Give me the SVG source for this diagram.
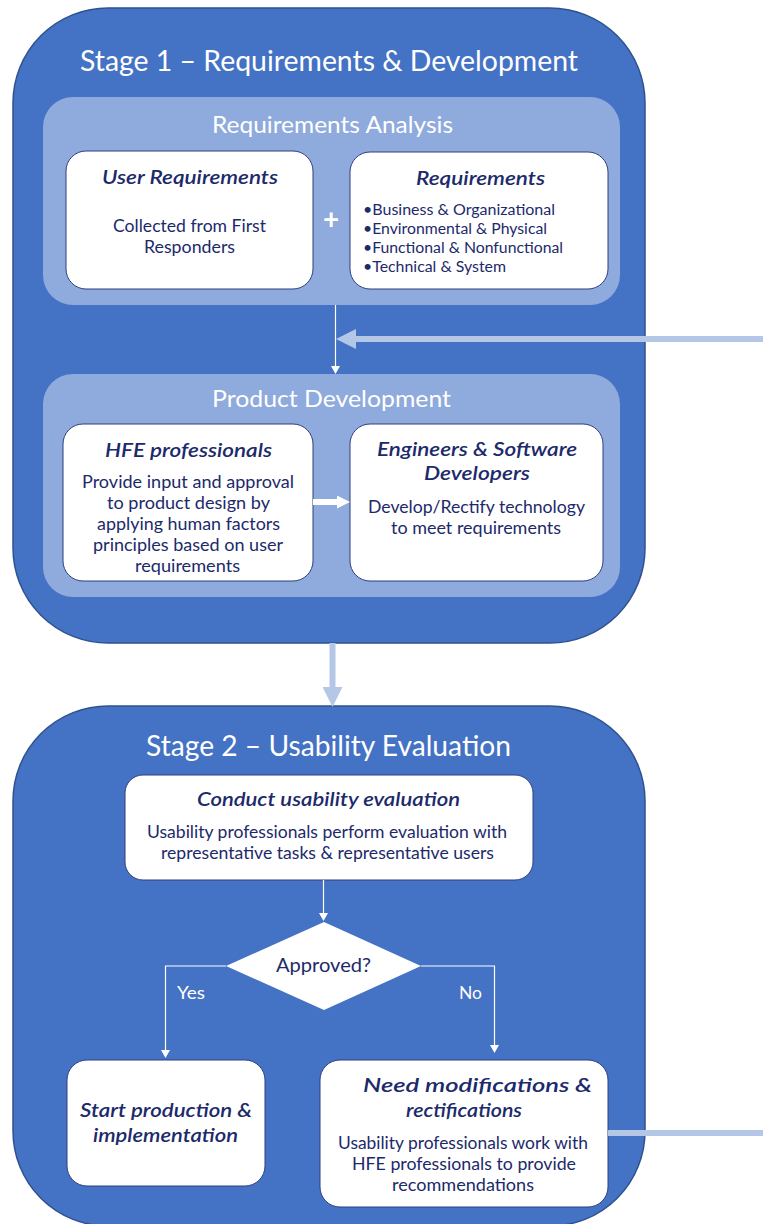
<svg xmlns="http://www.w3.org/2000/svg" width="763" height="1224" viewBox="0 0 763 1224">
<style>
text{font-family:Lato,"Noto Sans","Liberation Sans",sans-serif}
.stage{fill:#4472C4;stroke:#2F528F;stroke-width:1.5}
.panel{fill:#8FAADC}
.box{fill:#ffffff;stroke:#2F3F7F;stroke-width:1}
.st{font-size:29px;fill:#ffffff}
.pt{font-size:22.5px;fill:#ffffff}
.h{font-size:19.5px;font-style:italic;font-weight:600;fill:#1C2A6B}
.b{font-size:16.5px;fill:#1C2A6B}
.bl{font-size:15.5px;fill:#1C2A6B}
.lbl{font-size:16.5px;fill:#ffffff}
.thin{stroke:#ffffff;stroke-width:1.2;fill:none}
.thick{stroke:#B4C7E7;stroke-width:6;fill:none}
</style>
<defs>
<marker id="ah-thin" markerUnits="userSpaceOnUse" viewBox="0 0 8 9" markerWidth="8" markerHeight="9" refX="0" refY="4.5" orient="auto"><path d="M0,0 L8,4.5 L0,9 z" fill="#ffffff"/></marker>
<marker id="ah-thick" markerUnits="userSpaceOnUse" viewBox="0 0 20 20" markerWidth="20" markerHeight="20" refX="0" refY="10" orient="auto"><path d="M0,0 L20,10 L0,20 z" fill="#B4C7E7"/></marker>
<marker id="ah-white" markerUnits="userSpaceOnUse" viewBox="0 0 13 13" markerWidth="13" markerHeight="13" refX="0" refY="6.5" orient="auto"><path d="M0,0 L13,6.5 L0,13 z" fill="#ffffff"/></marker>
</defs>

<g id="stage1">
<rect class="stage" x="13" y="8" width="632" height="635" rx="95" ry="95"/>
<text class="st" x="80" y="71" textLength="498" lengthAdjust="spacingAndGlyphs">Stage 1 – Requirements &amp; Development</text>
</g>

<g id="requirements-analysis">
<rect class="panel" x="43" y="97" width="577" height="208" rx="30" ry="30"/>
<text class="pt" x="212" y="133" textLength="241" lengthAdjust="spacingAndGlyphs">Requirements Analysis</text>
<text x="331" y="229" font-size="28" font-weight="bold" fill="#ffffff" text-anchor="middle">+</text>
</g>

<g id="user-requirements">
<rect class="box" x="66" y="151" width="247" height="138" rx="20" ry="20"/>
<text class="h" x="102" y="184" textLength="176" lengthAdjust="spacingAndGlyphs">User Requirements</text>
<text class="b" x="113" y="232" textLength="153" lengthAdjust="spacingAndGlyphs">Collected from First</text>
<text class="b" x="144" y="253" textLength="91" lengthAdjust="spacingAndGlyphs">Responders</text>
</g>

<g id="requirements">
<rect class="box" x="350" y="152" width="258" height="137" rx="20" ry="20"/>
<text class="h" x="416" y="185" textLength="129" lengthAdjust="spacingAndGlyphs">Requirements</text>
<text class="bl" x="363" y="215" textLength="192" lengthAdjust="spacingAndGlyphs">•Business &amp; Organizational</text>
<text class="bl" x="363" y="234" textLength="184" lengthAdjust="spacingAndGlyphs">•Environmental &amp; Physical</text>
<text class="bl" x="363" y="253" textLength="200" lengthAdjust="spacingAndGlyphs">•Functional &amp; Nonfunctional</text>
<text class="bl" x="363" y="272" textLength="143" lengthAdjust="spacingAndGlyphs">•Technical &amp; System</text>
</g>

<g id="product-development">
<rect class="panel" x="43" y="374" width="577" height="223" rx="30" ry="30"/>
<text class="pt" x="212" y="407" textLength="239" lengthAdjust="spacingAndGlyphs">Product Development</text>
</g>

<g id="hfe-professionals">
<rect class="box" x="63" y="424" width="250" height="157" rx="20" ry="20"/>
<text class="h" x="105" y="457" textLength="167" lengthAdjust="spacingAndGlyphs">HFE professionals</text>
<text class="b" x="82" y="488" textLength="212" lengthAdjust="spacingAndGlyphs">Provide input and approval</text>
<text class="b" x="107" y="509" textLength="163" lengthAdjust="spacingAndGlyphs">to product design by</text>
<text class="b" x="97" y="530" textLength="183" lengthAdjust="spacingAndGlyphs">applying human factors</text>
<text class="b" x="93" y="551" textLength="190" lengthAdjust="spacingAndGlyphs">principles based on user</text>
<text class="b" x="135" y="572" textLength="105" lengthAdjust="spacingAndGlyphs">requirements</text>
</g>

<g id="engineers">
<rect class="box" x="350" y="424" width="253" height="157" rx="20" ry="20"/>
<text class="h" x="377" y="456" textLength="200" lengthAdjust="spacingAndGlyphs">Engineers &amp; Software</text>
<text class="h" x="424" y="480" textLength="106" lengthAdjust="spacingAndGlyphs">Developers</text>
<text class="b" x="368" y="513" textLength="217" lengthAdjust="spacingAndGlyphs">Develop/Rectify technology</text>
<text class="b" x="391" y="534" textLength="170" lengthAdjust="spacingAndGlyphs">to meet requirements</text>
</g>

<g id="stage2">
<rect class="stage" x="13" y="706" width="632" height="520" rx="95" ry="95"/>
<text class="st" x="146" y="756" textLength="365" lengthAdjust="spacingAndGlyphs">Stage 2 – Usability Evaluation</text>
</g>

<g id="conduct-evaluation">
<rect class="box" x="125" y="775" width="408" height="105" rx="18" ry="18"/>
<text class="h" x="197" y="806" textLength="263" lengthAdjust="spacingAndGlyphs">Conduct usability evaluation</text>
<text class="b" x="147" y="838" textLength="360" lengthAdjust="spacingAndGlyphs">Usability professionals perform evaluation with</text>
<text class="b" x="161" y="859" textLength="333" lengthAdjust="spacingAndGlyphs">representative tasks &amp; representative users</text>
</g>

<g id="approved">
<polygon points="324,922 421,966 324,1010 226,966" fill="#ffffff"/>
<text x="276" y="972" font-size="18.5" fill="#1C2A6B" textLength="95" lengthAdjust="spacingAndGlyphs">Approved?</text>
</g>

<g id="start-production">
<rect class="box" x="67" y="1060" width="198" height="126" rx="20" ry="20"/>
<text class="h" x="80" y="1117" textLength="172" lengthAdjust="spacingAndGlyphs">Start production &amp;</text>
<text class="h" x="93" y="1142" textLength="145" lengthAdjust="spacingAndGlyphs">implementation</text>
</g>

<g id="need-modifications">
<rect class="box" x="320" y="1060" width="288" height="147" rx="20" ry="20"/>
<text class="h" x="363" y="1092" textLength="229" lengthAdjust="spacingAndGlyphs">Need modifications &amp;</text>
<text class="h" x="406" y="1117" textLength="116" lengthAdjust="spacingAndGlyphs">rectifications</text>
<text class="b" x="338" y="1149" textLength="250" lengthAdjust="spacingAndGlyphs">Usability professionals work with</text>
<text class="b" x="352" y="1170" textLength="224" lengthAdjust="spacingAndGlyphs">HFE professionals to provide</text>
<text class="b" x="392" y="1191" textLength="142" lengthAdjust="spacingAndGlyphs">recommendations</text>
</g>

<g id="connectors">
<line class="thin" x1="335.5" y1="305" x2="335.5" y2="366" marker-end="url(#ah-thin)"/>
<line class="thick" x1="763" y1="339" x2="356" y2="339" marker-end="url(#ah-thick)"/>
<line x1="313" y1="502" x2="337" y2="502" stroke="#ffffff" stroke-width="6" marker-end="url(#ah-white)"/>
<line class="thick" x1="332.5" y1="643" x2="332.5" y2="687" marker-end="url(#ah-thick)"/>
<line class="thin" x1="323.5" y1="880" x2="323.5" y2="913" marker-end="url(#ah-thin)"/>
<polyline class="thin" points="226,966 165.5,966 165.5,1050" marker-end="url(#ah-thin)"/>
<polyline class="thin" points="421,966 494.5,966 494.5,1045" marker-end="url(#ah-thin)"/>
<line class="thick" x1="608" y1="1133" x2="763" y2="1133"/>
<text class="lbl" x="177" y="999" textLength="28" lengthAdjust="spacingAndGlyphs">Yes</text>
<text class="lbl" x="459" y="999" textLength="23" lengthAdjust="spacingAndGlyphs">No</text>
</g>
</svg>
